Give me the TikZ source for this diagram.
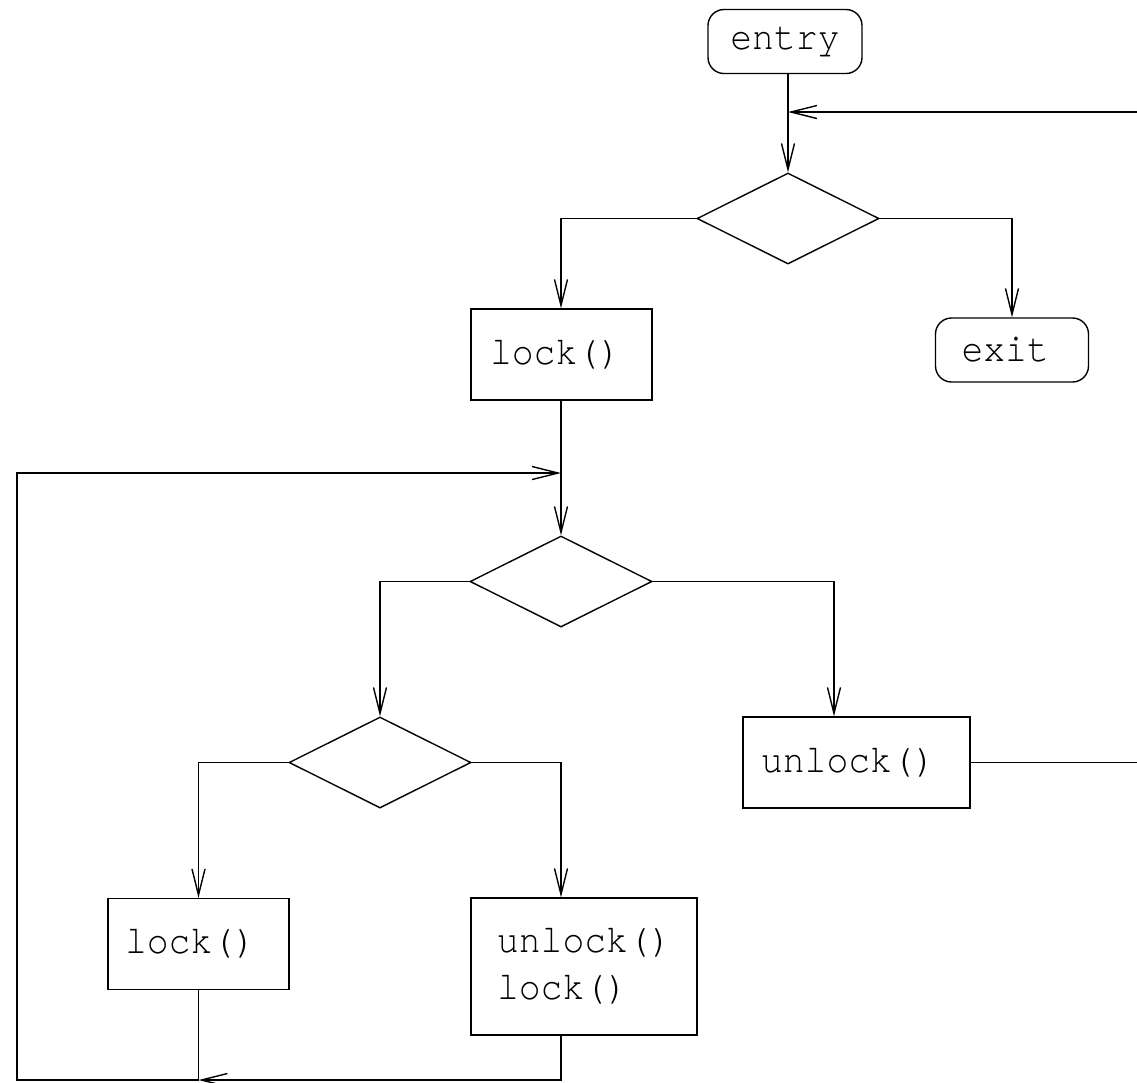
\documentclass[tikz,border=0pt]{standalone}
\usepackage{fontspec}
\newfontfamily\codefont[FakeStretch=0.91]{TeX Gyre Cursor}
\usetikzlibrary{shapes.geometric,arrows.meta}
\tikzset{
  flow/.style={line width=0.7pt},
  arr/.style={flow,-{Straight Barb[length=13pt,width=6.5pt,line width=0.7pt]}},
  txt/.style={font=\codefont\fontsize{20}{23.5}\selectfont},
  terminal/.style={txt,draw,flow,rounded corners=8pt,minimum height=32pt,inner ysep=0pt,align=left},
  actbox/.style={txt,draw,flow,minimum height=45.5pt,inner ysep=0pt,align=left},
  decision/.style={draw,flow,diamond,aspect=2,inner sep=0pt,minimum width=91pt,minimum height=45.5pt},
}
\begin{document}
\begin{tikzpicture}[x=0.5pt,y=-0.5pt]
\useasboundingbox (0,0) rectangle (1137,1083);

% start and end states
\node[terminal,align=center,minimum width=77pt,inner xsep=0pt] (entry) at (785,41.5) {entry};
\node[terminal,text width=50.5pt,inner xsep=13pt] (exit) at (1012,350) {exit};

% decisions
\node[decision] (d1) at (788,218.5) {};
\node[decision] (d2) at (561,581.5) {};
\node[decision] (d3) at (380,762.5) {};

% actions
\node[actbox,text width=71.5pt,inner xsep=9.5pt] (lock1) at (561.5,354.5) {lock()};
\node[actbox,text width=95.5pt,inner xsep=9pt] (unlock) at (856.5,762.5) {unlock()};
\node[actbox,text width=73.5pt,inner xsep=8.5pt] (lock2) at (198.5,944) {lock()};
\node[actbox,text width=87pt,inner xsep=13pt,minimum height=68.5pt] (ul) at (584,966.5) {unlock()\\lock()};

% helper points for the loops
\coordinate (rin) at (1137,112);
\coordinate (colR) at (834,0);
\coordinate (bot) at (17,1080);
\coordinate (lp) at (17,473);

% main flow
\draw[arr] (entry.south -| d1.north) -- (d1.north);
\draw[arr] (rin) -- (rin -| d1.north);
\draw[arr] (d1.west) -| (lock1.north -| d2.north);
\draw[arr] (d1.east) -| (exit.north);
\draw[arr] (lock1.south -| d2.north) -- (d2.north);
\draw[arr] (d2.west) -| (d3.north);
\draw[arr] (d2.east) -| (unlock.north -| colR);
\draw[arr] (d3.west) -| (lock2.north);
\draw[arr] (d3.east) -| (ul.north -| d2.north);
\draw[flow] (unlock.east) -- (unlock.east -| rin);

% loop back to the inner decision
\draw[arr] (ul.south -| d2.north) |- (lock2.south |- bot);
\draw[arr] (lock2.south) |- (bot) -- (lp) -- (lp -| d2.north);
\end{tikzpicture}
\end{document}
